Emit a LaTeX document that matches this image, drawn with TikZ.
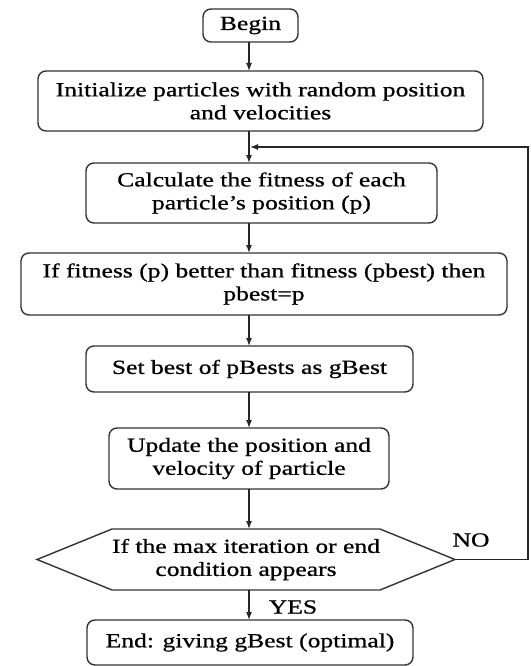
\documentclass[tikz,border=0pt]{standalone}
\usepackage{fontspec}
\newfontfamily\chartfont{Liberation Serif}[Ligatures=TeX,FakeStretch=1.28,FakeBold=0.8]
\usetikzlibrary{arrows.meta}

\tikzstyle{invisible} = [outer sep=0,inner sep=0,minimum size=0]
\tikzstyle{block} = [draw=black!80, line width=1.4pt, rounded corners=8pt, align=center, inner sep=2pt, outer sep=0]
\tikzstyle{flow} = [->, draw=black!85, line width=1.3pt]

\begin{document}
\begin{tikzpicture}[x=1pt, y=-1pt, >={Latex[length=8pt,width=6pt]}, font=\fontsize{20}{23}\chartfont]
\useasboundingbox (0,0) rectangle (530,666);

% BLOCKS
\node [block, minimum width=95pt, minimum height=33pt] (v1) at (250.5,25.5) {Begin};
\node [block, minimum width=445pt, minimum height=60pt] (v2) at (260.5,101) {Initialize particles with random position\\and velocities};
\node [block, minimum width=351pt, minimum height=60pt] (v3) at (261.5,193) {Calculate the fitness of each\\particle's position (p)};
\node [block, minimum width=486pt, minimum height=62pt] (v4) at (264,284) {If fitness (p) better than fitness (pbest) then\\pbest=p};
\node [block, minimum width=327pt, minimum height=46pt] (v5) at (249.5,369) {Set best of pBests as gBest};
\node [block, minimum width=280pt, minimum height=61pt] (v6) at (249,458.5) {Update the position and\\velocity of particle};
\node [block, minimum width=326pt, minimum height=45pt] (v8) at (250,642.5) {End: giving gBest (optimal)};

% DECISION
\node [invisible, minimum width=218pt, minimum height=61pt, align=center] (v7) at (246,559.5) {If the max iteration or end\\condition appears};
\coordinate (v7_l) at ([xshift=-75pt]v7.west);
\coordinate (v7_r) at ([xshift=75pt]v7.east);
\draw [draw=black!80, line width=1.4pt] (v7.north west) -- (v7.north east) -- (v7_r) -- (v7.south east) -- (v7.south west) -- (v7_l) -- cycle;

% FLOW
\coordinate (spine) at (249,0);
\draw[flow] (v1.south -| spine) -- (v2.north -| spine);
\draw[flow] (v2.south -| spine) -- (v3.north -| spine);
\draw[flow] (v3.south -| spine) -- (v4.north -| spine);
\draw[flow] (v4.south -| spine) -- (v5.north -| spine);
\draw[flow] (v5.south -| spine) -- (v6.north -| spine);
\draw[flow] (v6.south -| spine) -- (v7.north -| spine);
\draw[flow] (v7.south -| spine) -- (v8.north -| spine);

% LOOP BACK
\coordinate (v9) at (528,559.5);
\coordinate (v9_1) at (528,147);
\coordinate (v9_2) at (250,147);
\draw[flow] (v7_r) -- (v9) -- (v9_1) -- (v9_2);

\node (yes) at (293,607) {YES};
\node (no) at (471,540) {NO};
\end{tikzpicture}
\end{document}
